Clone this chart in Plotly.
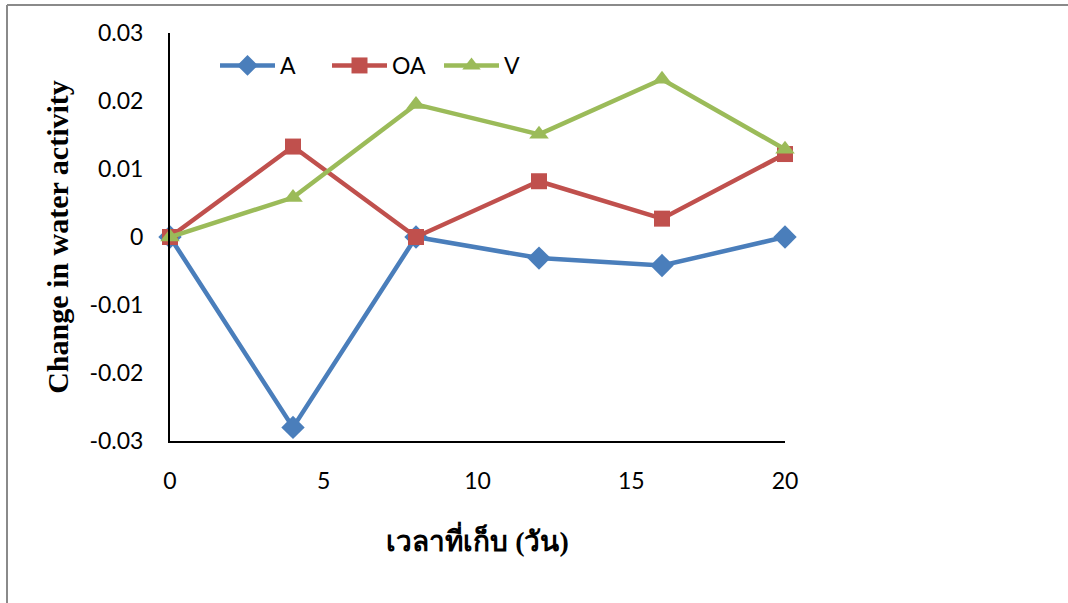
import plotly.graph_objects as go

days = [0, 4, 8, 12, 16, 20]
A = [0.0, -0.028, 0.0, -0.0031, -0.0042, 0.0]
OA = [0.0, 0.0133, 0.0, 0.0082, 0.0027, 0.0122]
V = [0.0, 0.0058, 0.0195, 0.0151, 0.0232, 0.0129]
x_ticks = [0, 5, 10, 15, 20]
y_ticks = [-0.03, -0.02, -0.01, 0, 0.01, 0.02, 0.03]
y_tick_labels = ["-0.03", "-0.02", "-0.01", "0", "0.01", "0.02", "0.03"]

series = [
    ("A", A, "#4A7EBB", "diamond", 18),
    ("OA", OA, "#C0504D", "square", 16),
    ("V", V, "#9BBB59", "triangle-up", 17),
]

fig = go.Figure()
for name, vals, color, sym, size in series:
    fig.add_trace(go.Scatter(
        x=days, y=vals, name=name, mode="lines+markers",
        line=dict(color=color, width=4.5),
        marker=dict(symbol=sym, size=size, color=color),
        cliponaxis=False,
    ))

L, R, T, B = 170, 785, 33, 441
W, H = 1068, 603
pw, ph = R - L, B - T

def px_x(px):
    return (px - L) / pw

def px_y(py):
    return 1 - (py - T) / ph

fig.update_layout(
    width=W, height=H,
    margin=dict(l=L, r=W - R, t=T, b=H - B, pad=0),
    paper_bgcolor="white", plot_bgcolor="white",
    font=dict(family="Lato, Open Sans, sans-serif", size=23, color="black"),
    showlegend=True,
    legend=dict(
        orientation="h", x=px_x(215), y=px_y(44), xanchor="left", yanchor="top",
        font=dict(size=23), bgcolor="rgba(0,0,0,0)",
        entrywidth=42, entrywidthmode="pixels", itemwidth=55,
    ),
    xaxis=dict(
        range=[0, 20], tickvals=x_ticks, showgrid=False, zeroline=False,
        showline=True, linecolor="black", linewidth=2,
        ticks="outside", ticklen=18, tickcolor="rgba(0,0,0,0)",
        tickfont=dict(size=23), fixedrange=True,
        title=dict(text="<b>เวลาที่เก็บ (วัน)</b>",
                   font=dict(family="Liberation Serif, serif", size=28), standoff=39),
    ),
    yaxis=dict(
        range=[-0.03, 0.03], tickvals=y_ticks, ticktext=y_tick_labels,
        showgrid=False, zeroline=False, showline=True, linecolor="black", linewidth=2,
        ticks="outside", ticklen=20, tickcolor="rgba(0,0,0,0)",
        tickfont=dict(size=23), fixedrange=True,
        title=dict(text="<b>Change in water activity</b>",
                   font=dict(family="Liberation Serif, serif", size=30), standoff=12),
    ),
    shapes=[
        dict(type="line", xref="paper", yref="paper", x0=px_x(7), x1=px_x(7),
             y0=px_y(5), y1=px_y(603), line=dict(color="#8a8a8a", width=2)),
        dict(type="line", xref="paper", yref="paper", x0=px_x(7), x1=px_x(1068),
             y0=px_y(5), y1=px_y(5), line=dict(color="#8a8a8a", width=2)),
    ],
)

fig.write_html("out.html")
